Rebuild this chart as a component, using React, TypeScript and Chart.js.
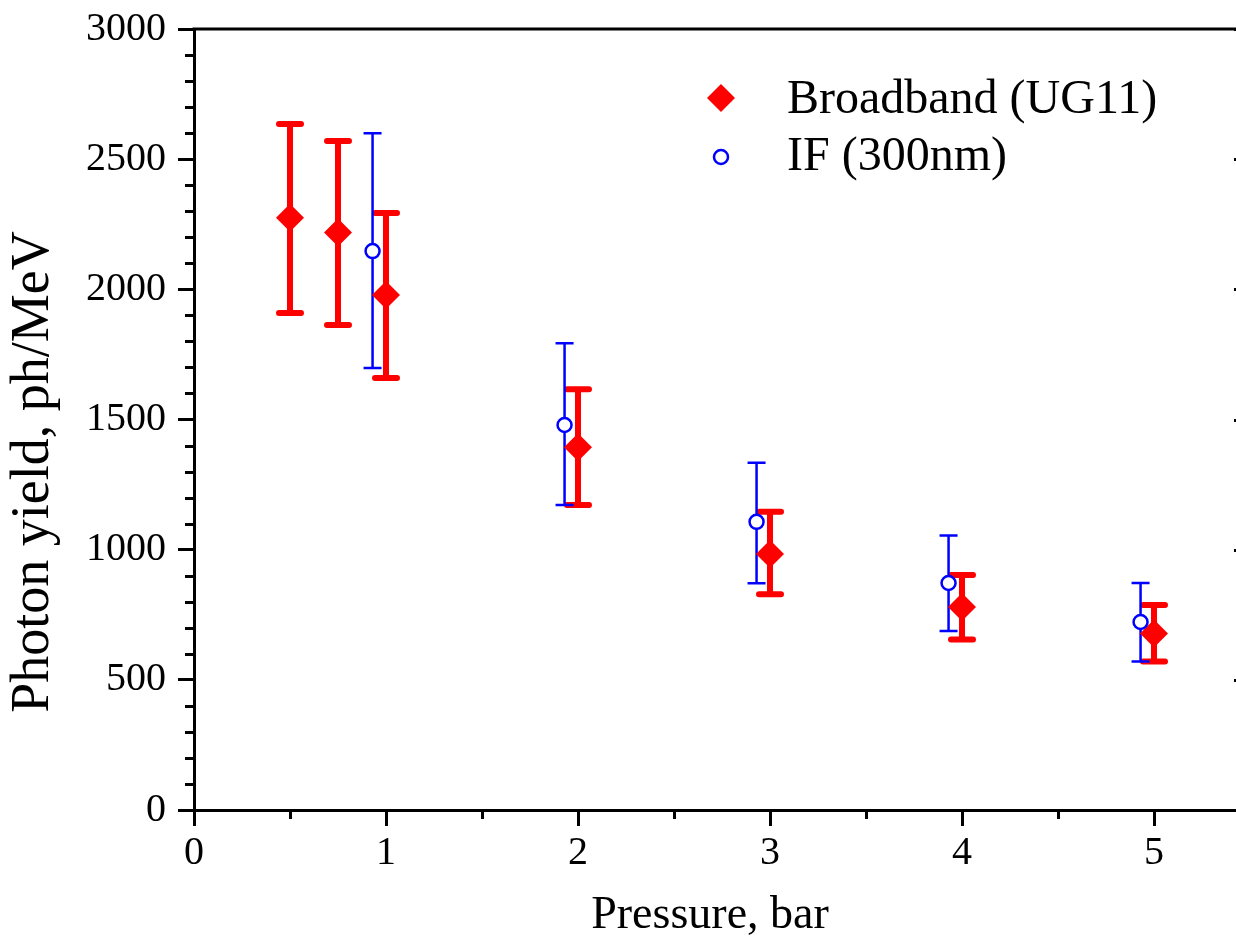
import React, { useEffect, useRef } from 'react';
import { Chart, registerables } from 'chart.js';

Chart.register(...registerables);

const FONT = '"Liberation Serif", "Times New Roman", serif';

// Broadband (UG11)
const broadbandX = [0.5, 0.75, 1, 2, 3, 4, 5];
const broadbandY = [2275, 2218, 1978, 1393, 983, 780, 678];
const broadbandHigh = [2635, 2570, 2293, 1616, 1146, 903, 787];
const broadbandLow = [1909, 1863, 1659, 1172, 829, 655, 570];

// IF (300nm)
const ifX = [0.93, 1.93, 2.93, 3.93, 4.93];
const ifY = [2147, 1479, 1107, 872, 722];
const ifHigh = [2600, 1793, 1334, 1054, 872];
const ifLow = [1698, 1172, 871, 688, 570];

const xTickValues = [0, 1, 2, 3, 4, 5];
const xMinorValues = [0.5, 1.5, 2.5, 3.5, 4.5];
const yTickValues = [0, 500, 1000, 1500, 2000, 2500, 3000];
const yMinorStep = 100;

const seriesNames = ['Broadband (UG11)', 'IF (300nm)'];
const xTitle = 'Pressure, bar';
const yTitle = 'Photon yield, ph/MeV';

const RED = '#ff0000';
const BLUE = '#0000ff';

const errorBarPlugin = {
  id: 'errorBars',
  beforeDatasetsDraw(chart: any) {
    const { ctx, scales } = chart;
    const x = scales.x;
    const y = scales.y;
    ctx.save();
    ctx.strokeStyle = RED;
    ctx.lineWidth = 6;
    ctx.lineCap = 'round';
    broadbandX.forEach((xv, i) => {
      const px = x.getPixelForValue(xv);
      const pt = y.getPixelForValue(broadbandHigh[i]);
      const pb = y.getPixelForValue(broadbandLow[i]);
      ctx.beginPath();
      ctx.moveTo(px, pt);
      ctx.lineTo(px, pb);
      ctx.moveTo(px - 11, pt);
      ctx.lineTo(px + 11, pt);
      ctx.moveTo(px - 11, pb);
      ctx.lineTo(px + 11, pb);
      ctx.stroke();
    });
    ctx.strokeStyle = BLUE;
    ctx.lineWidth = 2.5;
    ctx.lineCap = 'butt';
    ifX.forEach((xv, i) => {
      const px = x.getPixelForValue(xv);
      const pt = y.getPixelForValue(ifHigh[i]);
      const pb = y.getPixelForValue(ifLow[i]);
      ctx.beginPath();
      ctx.moveTo(px, pt);
      ctx.lineTo(px, pb);
      ctx.moveTo(px - 9, pt);
      ctx.lineTo(px + 9, pt);
      ctx.moveTo(px - 9, pb);
      ctx.lineTo(px + 9, pb);
      ctx.stroke();
    });
    ctx.restore();
  },
};

const decorPlugin = {
  id: 'decor',
  afterDraw(chart: any) {
    const { ctx, scales, chartArea } = chart;
    const x = scales.x;
    const y = scales.y;
    const { left, right, top, bottom } = chartArea;
    ctx.save();
    ctx.strokeStyle = '#000';
    ctx.lineWidth = 3;
    ctx.lineCap = 'butt';
    ctx.beginPath();
    ctx.moveTo(left - 1.5, top);
    ctx.lineTo(right, top);
    ctx.lineTo(right, bottom);
    ctx.stroke();
    ctx.beginPath();
    for (let v = yMinorStep; v < 3000; v += yMinorStep) {
      if (yTickValues.includes(v)) continue;
      const py = Math.round(y.getPixelForValue(v)) + 0.5;
      ctx.moveTo(left - 9, py);
      ctx.lineTo(left, py);
    }
    xMinorValues.forEach((v) => {
      const px = Math.round(x.getPixelForValue(v)) + 0.5;
      ctx.moveTo(px, bottom);
      ctx.lineTo(px, bottom + 9);
    });
    yTickValues.forEach((v) => {
      const py = Math.round(y.getPixelForValue(v)) + 0.5;
      ctx.moveTo(right - 16, py);
      ctx.lineTo(right, py);
    });
    ctx.stroke();

    ctx.fillStyle = '#000';
    ctx.font = `46px ${FONT}`;
    ctx.textAlign = 'center';
    ctx.textBaseline = 'alphabetic';
    ctx.fillText(xTitle, 710, 928);
    ctx.save();
    ctx.translate(48, 472);
    ctx.rotate(-Math.PI / 2);
    ctx.font = `54px ${FONT}`;
    ctx.fillText(yTitle, 0, 0);
    ctx.restore();

    ctx.fillStyle = RED;
    ctx.beginPath();
    ctx.moveTo(721, 98 - 14);
    ctx.lineTo(721 + 14, 98);
    ctx.lineTo(721, 98 + 14);
    ctx.lineTo(721 - 14, 98);
    ctx.closePath();
    ctx.fill();
    ctx.strokeStyle = BLUE;
    ctx.lineWidth = 2.5;
    ctx.fillStyle = '#fff';
    ctx.beginPath();
    ctx.arc(721, 157, 7, 0, Math.PI * 2);
    ctx.fill();
    ctx.stroke();
    ctx.fillStyle = '#000';
    ctx.font = `48px ${FONT}`;
    ctx.textAlign = 'left';
    ctx.fillText(seriesNames[0], 787, 113);
    ctx.fillText(seriesNames[1], 787, 170);
    ctx.restore();
  },
};

export default function App() {
  const ref = useRef<HTMLCanvasElement>(null);
  useEffect(() => {
    document.body.style.margin = '0';
    document.body.style.overflow = 'hidden';
    const chart = new Chart(ref.current as HTMLCanvasElement, {
      type: 'scatter',
      data: {
        datasets: [
          {
            label: seriesNames[0],
            data: broadbandX.map((xv, i) => ({ x: xv, y: broadbandY[i] })),
            pointStyle: 'rectRot',
            pointRadius: 14,
            pointBackgroundColor: RED,
            pointBorderColor: RED,
            pointBorderWidth: 0,
            showLine: false,
            order: 1,
          },
          {
            label: seriesNames[1],
            data: ifX.map((xv, i) => ({ x: xv, y: ifY[i] })),
            pointStyle: 'circle',
            pointRadius: 7,
            pointBackgroundColor: '#ffffff',
            pointBorderColor: BLUE,
            pointBorderWidth: 2.5,
            showLine: false,
            order: 0,
          },
        ],
      },
      options: {
        responsive: false,
        animation: false,
        devicePixelRatio: 1,
        layout: { autoPadding: false, padding: { top: 29, right: 2, left: 0, bottom: 0 } },
        plugins: { legend: { display: false }, tooltip: { enabled: false } },
        scales: {
          x: {
            type: 'linear',
            min: 0,
            max: 5.5,
            afterBuildTicks: (s: any) => {
              s.ticks = xTickValues.map((v) => ({ value: v }));
            },
            afterFit: (s: any) => {
              s.height = 127;
              s.paddingLeft = 0;
              s.paddingRight = 0;
              s.paddingTop = 0;
              s.paddingBottom = 0;
            },
            grid: {
              drawOnChartArea: false,
              drawTicks: true,
              tickLength: 16,
              tickWidth: 3,
              tickColor: '#000',
            },
            border: { display: true, width: 3, color: '#000' },
            ticks: {
              color: '#000',
              font: { family: FONT, size: 40 },
              padding: 3,
              maxRotation: 0,
              autoSkip: false,
              callback: (v: any) => String(v),
            },
          },
          y: {
            type: 'linear',
            min: 0,
            max: 3000,
            afterBuildTicks: (s: any) => {
              s.ticks = yTickValues.map((v) => ({ value: v }));
            },
            afterFit: (s: any) => {
              s.width = 194;
              s.paddingLeft = 0;
              s.paddingRight = 0;
              s.paddingTop = 0;
              s.paddingBottom = 0;
            },
            grid: {
              drawOnChartArea: false,
              drawTicks: true,
              tickLength: 16,
              tickWidth: 3,
              tickColor: '#000',
            },
            border: { display: true, width: 3, color: '#000' },
            ticks: {
              color: '#000',
              font: { family: FONT, size: 40 },
              padding: 12,
              autoSkip: false,
              callback: (v: any) => String(v),
            },
          },
        },
      },
      plugins: [errorBarPlugin, decorPlugin],
    } as any);
    return () => chart.destroy();
  }, []);
  return (
    <div style={{ width: 1236, height: 937, overflow: 'hidden', position: 'relative', background: '#fff' }}>
      <canvas ref={ref} width={1252} height={937} style={{ display: 'block', width: 1252, height: 937 }} />
    </div>
  );
}
